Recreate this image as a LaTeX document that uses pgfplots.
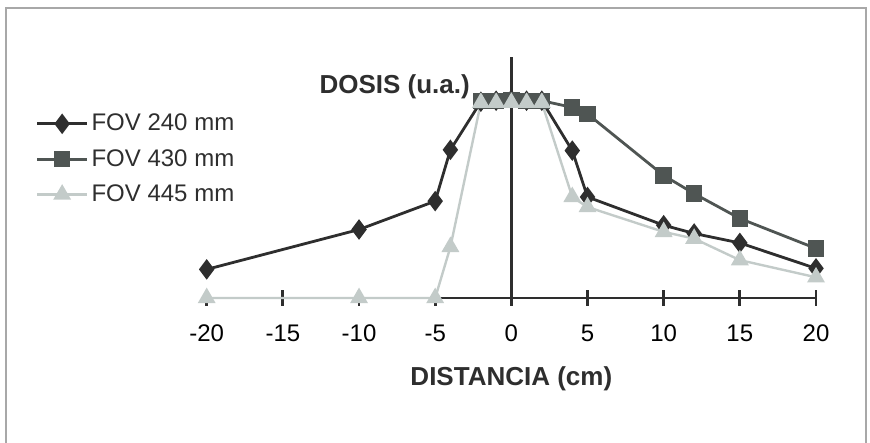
\documentclass[border=0pt]{standalone}
\usepackage{pgfplots}
\pgfplotsset{compat=1.18}
\usepackage{fontspec}
\setmainfont{Liberation Sans}

\definecolor{c240}{HTML}{2E2E2E}
\definecolor{c430}{HTML}{4F5553}
\definecolor{c445}{HTML}{C3CBC9}
\definecolor{frame}{HTML}{A8A8A8}

\begin{document}
\begin{tikzpicture}
\useasboundingbox (0,0) rectangle (435pt,221.5pt);
% outer frame (open at the bottom)
\draw[frame, line width=0.8pt] (3pt,0) -- (3pt,217.5pt) -- (433pt,217.5pt) -- (433pt,0);

\begin{axis}[
    at={(103.35pt,72.5pt)}, anchor=south west,
    scale only axis,
    width=304.65pt, height=120.35pt,
    xmin=-20, xmax=20, ymin=0, ymax=122,
    clip=false,
    axis x line*=bottom,
    axis y line=none,
    axis line style={line width=1.4pt, c240, -},
    xtick={-20,-15,...,20},
    ytick=\empty,
    tick align=center,
    major tick length=8pt,
    xtick style={line width=1.4pt, c240},
    /pgf/number format/assume math mode=true,
    tick label style={font=\fontsize{12}{14}\selectfont, text=black},
    xticklabel style={yshift=-6pt},
    legend style={draw=none, fill=none, at={(-0.2812,0.783)}, anchor=north west,
        font=\fontsize{12}{14}\selectfont, text=c240, inner sep=0pt,
        row sep=3.8pt, nodes={inner xsep=1.5pt}},
    legend cell align=left,
    legend image code/.code={
        \draw[mark repeat=2, mark phase=2] plot coordinates {(0pt,0pt) (12.5pt,0pt) (25pt,0pt)};},
]

\addplot[c430, line width=1.4pt, forget plot] coordinates {(-7.5,0) (-5,0)};

\addplot[c240, line width=1.4pt, mark=diamond*, mark size=4pt,
    mark options={solid, fill=c240}] coordinates {
(-20,14.5) (-10,34.7) (-5,49.1) (-4,75.1) (-2,99.5) (-1,100) (0,100.5) (1,100) (2,100)
(4,74.7) (5,51.2) (10,36.9) (12,32.7) (15,27.9) (20,15.0)
};
\addlegendentry{FOV 240 mm}

\addplot[c430, line width=1.4pt, mark=square*, mark size=3.4pt,
    mark options={solid, fill=c430}] coordinates {
(-2,100) (-1,100) (0,100.5) (1,100) (2,100)
(4,96.6) (5,93.3) (10,62.1) (12,52.9) (15,40.3) (20,25.1)
};
\addlegendentry{FOV 430 mm}

\addplot[c445, line width=1.2pt, mark=triangle*, mark size=4pt,
    mark options={solid, fill=c445}] coordinates {
(-20,0) (-10,0) (-5,0) (-4,25.9) (-2,99) (-1,99) (0,99) (1,99) (2,99)
(4,51.2) (5,46.1) (10,33.5) (12,30.1) (15,19.2) (20,10.5)
};
\addlegendentry{FOV 445 mm}

\draw[c240, line width=1.4pt] (axis cs:0,0) -- (axis cs:0,122);
\node[anchor=east, font=\fontsize{13}{15}\selectfont\bfseries, text=c240, inner sep=0pt]
    at (axis cs:-2.7,107) {DOSIS (u.a.)};
\node[font=\fontsize{13}{15}\selectfont\bfseries, text=c240, inner sep=0pt]
    at (axis cs:0,-41) {DISTANCIA (cm)};
\end{axis}
\end{tikzpicture}
\end{document}
